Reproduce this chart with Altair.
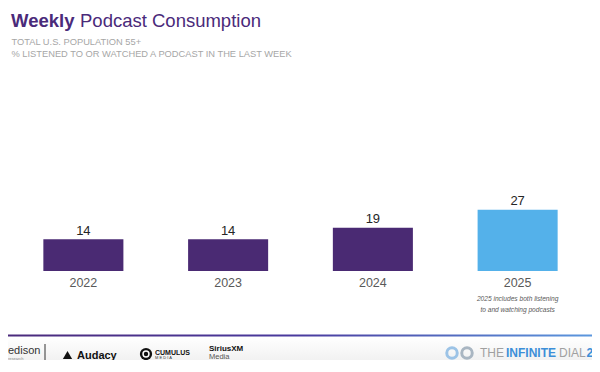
import altair as alt
import pandas as pd

# ---- data ----
years = ["2022", "2023", "2024", "2025"]
values = [14, 14, 19, 27]
measure = ["Listened", "Listened", "Listened", "Listened or watched"]
note_year = "2025"
note_lines = ["2025 includes both listening", "to and watching podcasts"]

title_bold = "Weekly"
title_rest = "Podcast Consumption"
subtitle_1 = "TOTAL U.S. POPULATION 55+"
subtitle_2 = "% LISTENED TO OR WATCHED A PODCAST IN THE LAST WEEK"

PURPLE = "#4a2a73"
BLUE = "#54b1ea"
FONT = "Liberation Sans"

W, H = 584, 352

df = pd.DataFrame({"year": years, "value": values, "measure": measure})
note_df = pd.DataFrame({"year": [note_year], "note": ["\n".join(note_lines)]})

xenc = alt.X("year:N", sort=years,
             scale=alt.Scale(range=[3, 582], paddingInner=0.447, paddingOuter=0.2235),
             axis=None)
yenc = alt.Y("value:Q", scale=alt.Scale(domain=[0, 100], range=[263, 36], nice=False),
             axis=None)

base = alt.Chart(df)

bars = base.mark_bar().encode(
    x=xenc, y=yenc,
    color=alt.Color("measure:N",
                    scale=alt.Scale(domain=["Listened", "Listened or watched"],
                                    range=[PURPLE, BLUE]),
                    legend=None),
)

value_labels = base.mark_text(baseline="bottom", dy=-1.5, fontSize=13,
                              color="#262626", font=FONT).encode(
    x=xenc, y=yenc, text="value:Q")

year_labels = base.mark_text(baseline="middle", fontSize=12.5,
                             color="#595959", font=FONT).encode(
    x=xenc, y=alt.value(275), text="year:N")

note = alt.Chart(note_df).mark_text(baseline="top", fontSize=6.6, lineHeight=11,
                                    lineBreak="\n", fontStyle="italic",
                                    color="#595959", font=FONT).encode(
    x=xenc, y=alt.value(288), text="note:N")


def label(text, xpos, ypos, size, color, weight="normal", align="left",
          baseline="middle", style="normal"):
    return alt.Chart(pd.DataFrame({"t": [text]})).mark_text(
        align=align, baseline=baseline, fontSize=size, fontWeight=weight,
        fontStyle=style, color=color, font=FONT,
    ).encode(x=alt.value(xpos), y=alt.value(ypos), text="t:N")


one = pd.DataFrame({"k": [0]})

footer_bg = alt.Chart(one).mark_rect(
    fill=alt.LinearGradient(gradient="linear",
                            stops=[alt.GradientStop(color="#ffffff", offset=0),
                                   alt.GradientStop(color="#ededed", offset=1)],
                            x1=0, x2=0, y1=0, y2=1)
).encode(x=alt.value(-8), x2=alt.value(W), y=alt.value(329), y2=alt.value(H + 8))

footer_line = alt.Chart(one).mark_rect(
    fill=alt.LinearGradient(gradient="linear",
                            stops=[alt.GradientStop(color="#4b2a7b", offset=0),
                                   alt.GradientStop(color="#4a3a9e", offset=0.5),
                                   alt.GradientStop(color="#5b97de", offset=1)],
                            x1=0, x2=1, y1=0, y2=0)
).encode(x=alt.value(-8), x2=alt.value(W), y=alt.value(326.5), y2=alt.value(328.5))

separator = alt.Chart(one).mark_rule(color="#333333", strokeWidth=1).encode(
    x=alt.value(37), y=alt.value(336), y2=alt.value(H))

audacy_mark = alt.Chart(one).mark_point(shape="triangle-up", filled=True,
                                        color="#111111", size=85, opacity=1).encode(
    x=alt.value(59.5), y=alt.value(347))

cumulus_mark = alt.Chart(one).mark_point(shape="circle", filled=True,
                                         color="#111111", size=150, opacity=1).encode(
    x=alt.value(138), y=alt.value(346))
cumulus_inner = alt.Chart(one).mark_point(shape="circle", filled=False,
                                          color="#ffffff", strokeWidth=1.5, size=35,
                                          opacity=1).encode(
    x=alt.value(138), y=alt.value(346))

dial_ring1 = alt.Chart(one).mark_point(shape="circle", filled=False, color="#9cc3e6",
                                       strokeWidth=3, size=110, opacity=1).encode(
    x=alt.value(444), y=alt.value(345))
dial_ring2 = alt.Chart(one).mark_point(shape="circle", filled=False, color="#a9b6c2",
                                       strokeWidth=3, size=110, opacity=1).encode(
    x=alt.value(459), y=alt.value(345))

texts = [
    label(title_bold, 3, 18.7, 18.5, "#4a2a7a", weight="bold", baseline="alphabetic"),
    label(title_rest, 72, 18.7, 18.5, "#4a2a7a", baseline="alphabetic"),
    label(subtitle_1, 3.5, 34.3, 9.3, "#a6a6a6"),
    label(subtitle_2, 3.5, 46, 9.3, "#a6a6a6"),
    label("edison", 0, 343, 11, "#333333"),
    label("research", 0, 352.5, 4, "#888888", baseline="bottom"),
    label("Audacy", 69, 347.5, 11, "#111111", weight="bold"),
    label("CUMULUS", 147, 345, 7, "#111111", weight="bold"),
    label("M E D I A", 147, 352, 4, "#333333", baseline="bottom"),
    label("SiriusXM", 201, 340.5, 8, "#111111", weight="bold"),
    label("Media", 201, 352.5, 7.5, "#555555", baseline="bottom"),
    label("THE", 472, 345, 12, "#a0a0a0"),
    label("INFINITE", 498, 345, 12, "#3d8fd8", weight="bold"),
    label("DIAL", 551, 345, 12, "#a0a0a0"),
    label("2", 578.5, 345, 12, "#3d8fd8", weight="bold"),
]

chart = alt.layer(
    footer_bg, footer_line, bars, value_labels, year_labels, note,
    separator, audacy_mark, cumulus_mark, cumulus_inner, dial_ring1, dial_ring2, *texts
).properties(
    width=W, height=H,
    autosize=alt.AutoSizeParams(type="none"),
    padding=0,
    background="white",
).configure_view(stroke=None)

chart.save("out.html", embed_options={"renderer": "svg", "actions": False})
